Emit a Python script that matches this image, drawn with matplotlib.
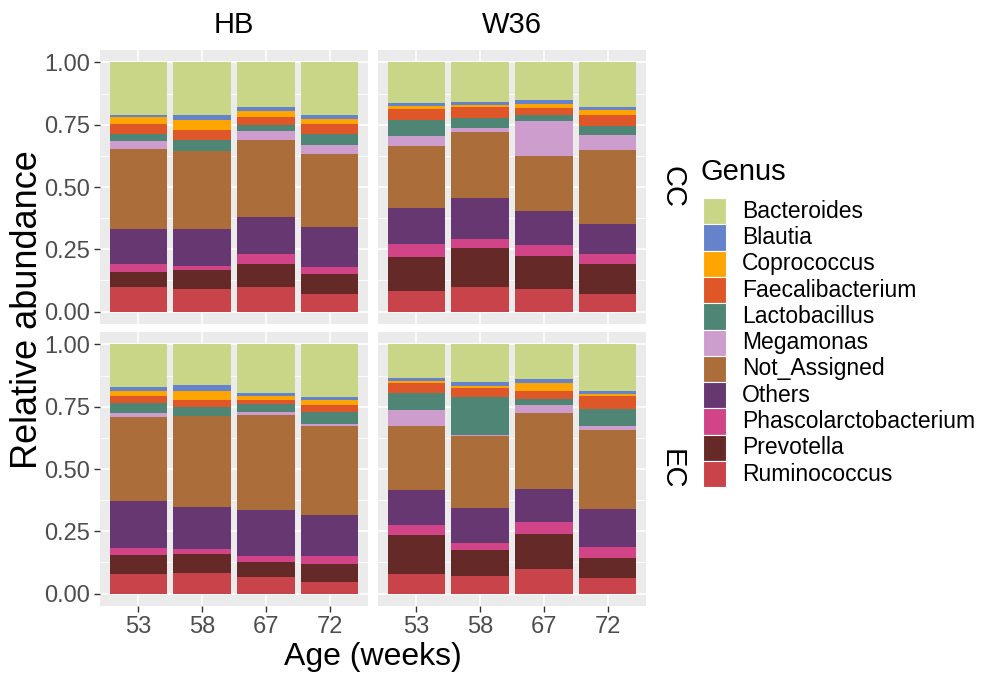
import numpy as np
import matplotlib
matplotlib.use("Agg")
import matplotlib.pyplot as plt
from matplotlib.patches import Rectangle

plt.rcParams['font.family'] = ['Liberation Sans', 'DejaVu Sans']

# relative abundance per genus, 16 values each:
# CC-HB (53, 58, 67, 72), CC-W36, EC-HB, EC-W36
ages = ["53", "58", "67", "72"]
strains = ["HB", "W36"]
housing = ["CC", "EC"]

ruminococcus = [0.097, 0.090, 0.097, 0.071, 0.081, 0.097, 0.090, 0.071,
                0.077, 0.081, 0.066, 0.047, 0.077, 0.070, 0.097, 0.061]
prevotella = [0.060, 0.078, 0.095, 0.078, 0.137, 0.159, 0.133, 0.121,
              0.076, 0.076, 0.059, 0.073, 0.159, 0.106, 0.141, 0.083]
phascolarctobacterium = [0.035, 0.016, 0.041, 0.030, 0.054, 0.035, 0.043, 0.041,
                         0.029, 0.021, 0.026, 0.029, 0.040, 0.026, 0.049, 0.044]
others = [0.138, 0.146, 0.147, 0.159, 0.145, 0.164, 0.138, 0.120,
          0.191, 0.171, 0.183, 0.165, 0.140, 0.143, 0.134, 0.150]
not_assigned = [0.321, 0.313, 0.309, 0.295, 0.248, 0.264, 0.222, 0.297,
                0.334, 0.362, 0.383, 0.359, 0.257, 0.289, 0.302, 0.317]
megamonas = [0.033, 0.003, 0.035, 0.037, 0.038, 0.019, 0.138, 0.057,
             0.017, 0.001, 0.010, 0.009, 0.063, 0.001, 0.033, 0.018]
lactobacillus = [0.027, 0.043, 0.023, 0.041, 0.067, 0.040, 0.027, 0.036,
                 0.042, 0.035, 0.033, 0.045, 0.069, 0.155, 0.025, 0.067]
faecalibacterium = [0.043, 0.038, 0.034, 0.043, 0.042, 0.043, 0.025, 0.047,
                    0.029, 0.030, 0.019, 0.029, 0.039, 0.035, 0.033, 0.054]
coprococcus = [0.027, 0.040, 0.024, 0.019, 0.014, 0.009, 0.018, 0.019,
               0.018, 0.037, 0.016, 0.021, 0.009, 0.008, 0.030, 0.009]
blautia = [0.010, 0.022, 0.016, 0.016, 0.011, 0.011, 0.017, 0.012,
           0.016, 0.022, 0.011, 0.014, 0.011, 0.018, 0.016, 0.011]
bacteroides = [0.209, 0.211, 0.179, 0.211, 0.163, 0.159, 0.149, 0.179,
               0.171, 0.164, 0.194, 0.209, 0.136, 0.149, 0.140, 0.186]

genus_names = ["Bacteroides", "Blautia", "Coprococcus", "Faecalibacterium",
               "Lactobacillus", "Megamonas", "Not_Assigned", "Others",
               "Phascolarctobacterium", "Prevotella", "Ruminococcus"]
genus_values = [bacteroides, blautia, coprococcus, faecalibacterium,
                lactobacillus, megamonas, not_assigned, others,
                phascolarctobacterium, prevotella, ruminococcus]
genus_colors = ["#C9D688", "#6583CB", "#FFA500", "#DF5628", "#4E8574",
                "#CD9DCD", "#AB6D3A", "#673771", "#D24488", "#652A27",
                "#C9434A"]

W, H = 983, 674


def px_axes(fig, left, top, width, height):
    """add axes using pixel coordinates measured from the top left"""
    return fig.add_axes([left / W, 1 - (top + height) / H, width / W, height / H])


def draw_panel(ax, idx, show_x, show_y):
    x = np.arange(1, len(ages) + 1)
    bottom = np.zeros(len(ages))
    # ggplot stacks the first level on top, so go through genera in reverse
    for vals, col in zip(genus_values[::-1], genus_colors[::-1]):
        v = np.array(vals)[idx]
        ax.bar(x, v, width=0.9, bottom=bottom, color=col, linewidth=0, zorder=3)
        bottom += v

    ax.set_facecolor("#EBEBEB")
    ax.set_xlim(0.4, 4.6)
    ax.set_ylim(-0.05, 1.05)
    ax.set_xticks(x)
    ax.set_yticks([0, 0.25, 0.5, 0.75, 1.0])
    ax.set_yticks([0.125, 0.375, 0.625, 0.875], minor=True)
    ax.grid(which="major", color="white", linewidth=1.1, zorder=0)
    ax.grid(which="minor", axis="y", color="white", linewidth=0.55, zorder=0)
    ax.set_axisbelow(True)
    for s in ax.spines.values():
        s.set_visible(False)

    ax.tick_params(which="minor", length=0)
    ax.tick_params(which="major", color="#333333", length=4, width=1.0,
                   labelcolor="#4D4D4D", labelsize=17, pad=3)
    if show_x:
        ax.set_xticklabels(ages)
    else:
        ax.tick_params(axis="x", length=0, labelbottom=False)
    if show_y:
        ax.set_yticklabels(["0.00", "0.25", "0.50", "0.75", "1.00"])
    else:
        ax.tick_params(axis="y", length=0, labelleft=False)


def draw_legend(fig):
    fig.text(700 / W, 1 - 172 / H, "Genus", fontsize=21, ha="left", va="center")
    key_h = 26.3
    for i, (name, col) in enumerate(zip(genus_names, genus_colors)):
        top = 198 + i * key_h
        fig.patches.append(Rectangle((703 / W, 1 - (top + key_h) / H), 23 / W, key_h / H,
                                     facecolor=col, edgecolor="white", linewidth=0.8,
                                     transform=fig.transFigure, figure=fig))
        fig.text(742 / W, 1 - (top + key_h / 2) / H, name, fontsize=16.5,
                 ha="left", va="center")


def main():
    fig = plt.figure(figsize=(W / 100, H / 100), dpi=100)

    lefts = [100, 378]
    tops = [50, 332]
    pw, ph = 268, 274

    for r, hs in enumerate(housing):
        for c, st in enumerate(strains):
            ax = px_axes(fig, lefts[c], tops[r], pw, ph)
            idx = slice((r * 2 + c) * 4, (r * 2 + c) * 4 + 4)
            draw_panel(ax, idx, show_x=(r == 1), show_y=(c == 0))
            if r == 0:
                fig.text((lefts[c] + pw / 2) / W, 1 - 25 / H, st, fontsize=21,
                         ha="center", va="center")
        fig.text(672 / W, 1 - (tops[r] + ph / 2) / H, hs, fontsize=21,
                 rotation=-90, ha="center", va="center")

    fig.text((100 + 646) / 2 / W, 1 - 657 / H, "Age (weeks)", fontsize=23,
             ha="center", va="center")
    fig.text(28 / W, 1 - 310 / H, "Relative abundance", fontsize=26,
             rotation=90, ha="center", va="center")

    draw_legend(fig)
    fig.savefig("out.png", dpi=100, facecolor="white")


if __name__ == "__main__":
    main()
